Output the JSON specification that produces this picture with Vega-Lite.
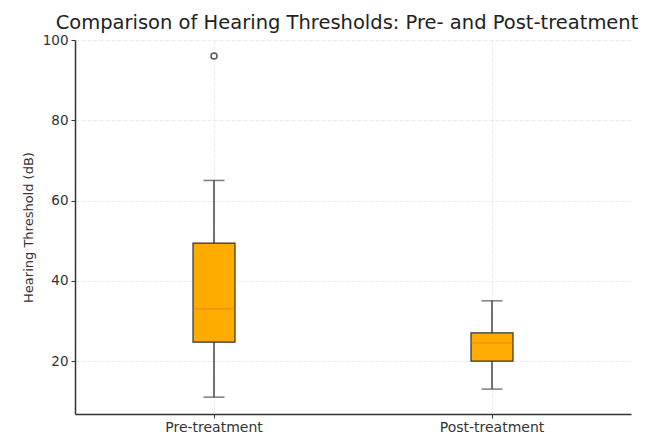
{
  "$schema": "https://vega.github.io/schema/vega-lite/v6.json",
  "width": 556,
  "height": 374,
  "autosize": {"type": "none"},
  "padding": {"left": 75, "top": 40, "right": 18, "bottom": 25},
  "background": "white",
  "title": {
    "text": "Comparison of Hearing Thresholds: Pre- and Post-treatment",
    "font": "DejaVu Sans",
    "fontSize": 19.5,
    "fontWeight": "normal",
    "color": "#222",
    "offset": 0,
    "anchor": "middle",
    "dx": -6
  },
  "datasets": {
    "boxes": [
      {"group": "Pre-treatment", "lower": 11, "q1": 24.7, "median": 33, "q3": 49.4, "upper": 65},
      {"group": "Post-treatment", "lower": 13, "q1": 20, "median": 24.5, "q3": 27, "upper": 35}
    ],
    "outliers": [
      {"group": "Pre-treatment", "value": 96}
    ]
  },
  "config": {
    "view": {"stroke": null},
    "axis": {
      "labelFont": "DejaVu Sans",
      "titleFont": "DejaVu Sans",
      "labelFontSize": 13.5,
      "labelColor": "#333",
      "titleColor": "#333",
      "titleFontWeight": "normal",
      "domainColor": "#333",
      "domainWidth": 1.5,
      "tickColor": "#333",
      "gridColor": "#e6e6e6",
      "gridDash": [4, 2],
      "gridWidth": 0.8
    }
  },
  "encoding": {
    "x": {
      "field": "group",
      "type": "nominal",
      "sort": ["Pre-treatment", "Post-treatment"],
      "scale": {"paddingInner": 0, "paddingOuter": 0},
      "axis": {"title": null, "labelAngle": 0, "grid": true, "tickSize": 4, "labelPadding": 2, "labelFontSize": 14}
    }
  },
  "layer": [
    {
      "data": {"name": "boxes"},
      "mark": {"type": "rule", "color": "#444", "strokeWidth": 1.5},
      "encoding": {
        "y": {
          "field": "lower",
          "type": "quantitative",
          "scale": {"domain": [6.8, 100], "nice": false, "zero": false},
          "axis": {
            "title": "Hearing Threshold (dB)",
            "titleFontSize": 13,
            "titlePadding": 7,
            "values": [20, 40, 60, 80, 100],
            "grid": true,
            "tickSize": 4,
            "labelPadding": 3
          }
        },
        "y2": {"field": "upper"}
      }
    },
    {
      "data": {"name": "boxes"},
      "mark": {"type": "tick", "color": "#444", "thickness": 1.5, "size": 21},
      "encoding": {"y": {"field": "lower", "type": "quantitative"}}
    },
    {
      "data": {"name": "boxes"},
      "mark": {"type": "tick", "color": "#444", "thickness": 1.5, "size": 21},
      "encoding": {"y": {"field": "upper", "type": "quantitative"}}
    },
    {
      "data": {"name": "boxes"},
      "mark": {"type": "bar", "size": 42, "fill": "#FFAB00", "stroke": "#333", "strokeWidth": 1.2},
      "encoding": {
        "y": {"field": "q1", "type": "quantitative"},
        "y2": {"field": "q3"}
      }
    },
    {
      "data": {"name": "boxes"},
      "mark": {"type": "tick", "color": "#F08A10", "thickness": 1.5, "size": 41},
      "encoding": {"y": {"field": "median", "type": "quantitative"}}
    },
    {
      "data": {"name": "outliers"},
      "mark": {"type": "point", "shape": "circle", "filled": false, "stroke": "#111", "strokeWidth": 1.5, "size": 36},
      "encoding": {"y": {"field": "value", "type": "quantitative"}}
    }
  ]
}
